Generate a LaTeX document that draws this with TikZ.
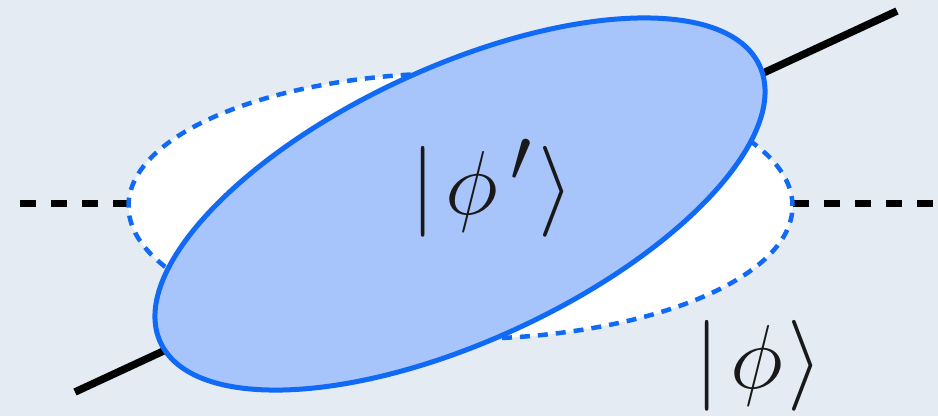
\documentclass[tikz,border=0pt]{standalone}
\usepackage{graphicx}
\definecolor{bgcol}{RGB}{228,235,242}
\definecolor{fillblue}{RGB}{167,197,250}
\definecolor{edgeblue}{RGB}{16,106,245}
\definecolor{inkcol}{RGB}{25,25,25}
\newcommand{\bigket}[1]{\scalebox{3.65}{\Huge$#1$}}
\begin{document}
\begin{tikzpicture}[x=1pt,y=-1pt,
  axisdash/.style={line width=7pt, black, dash pattern=on 16pt off 15pt},
  oldstate/.style={fill=white, draw=edgeblue, line width=4.5pt, dash pattern=on 10pt off 8pt},
  newstate/.style={fill=fillblue, draw=edgeblue, line width=5pt},
  axisline/.style={line width=7.5pt, black},
  ketlabel/.style={inner sep=0pt, text=inkcol, anchor=base}]
\useasboundingbox (0,0) rectangle (938,416);
\fill[bgcol] (0,0) rectangle (938,416);
% horizontal dashed axis
\coordinate (hl1) at (20,203);
\coordinate (hl2) at (128,203);
\coordinate (hr1) at (793,203);
\coordinate (hr2) at (934,203);
\draw[axisdash] (hl1) -- (hl2);
\draw[axisdash] (hr1) -- (hr2);
% original state ellipse
\draw[oldstate] (460.5,206) ellipse [x radius=332pt, y radius=133pt];
% tilted axis
\coordinate (tl) at (75,392);
\coordinate (tr) at (897,11);
\draw[axisline] (tl) -- (tr);
% transformed state ellipse
\draw[newstate, rotate around={24.8:(460,204)}] (460,204) ellipse [x radius=330pt, y radius=137pt];
% labels
\node[ketlabel] (phip) at (492,214) {\bigket{|\mkern2mu\phi^{\mkern3mu\prime}\mkern1mu\rangle}};
\node[ketlabel] (phi) at (759,388) {\bigket{|\mkern2mu\phi\mkern1mu\rangle}};
\end{tikzpicture}
\end{document}
